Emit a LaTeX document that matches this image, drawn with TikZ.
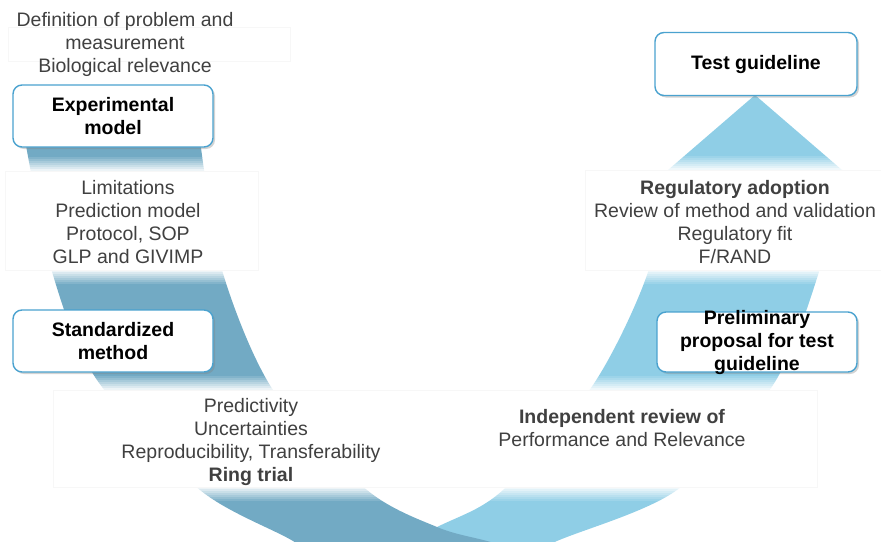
\documentclass[tikz,border=0pt]{standalone}
\usepackage{fontspec}
\setmainfont{Liberation Sans}
\usetikzlibrary{positioning,shadows}

\definecolor{boxblue}{HTML}{4AA2CF}
\definecolor{darkband}{HTML}{72AAC4}
\definecolor{lightband}{HTML}{8FCEE6}
\definecolor{notegray}{HTML}{404040}

\begin{document}
\begin{tikzpicture}[x=1pt, y=-1pt,
  txt/.style = {font=\fontsize{19.5}{23}\selectfont, align=center, inner sep=0pt},
  note/.style = {txt, text=notegray},
  stage/.style = {txt, font=\fontsize{19.5}{23}\selectfont\bfseries, draw=boxblue,
    line width=1.4pt, fill=white, rounded corners=9pt, minimum width=200pt, minimum height=62pt,
    drop shadow={shadow xshift=2pt, shadow yshift=-2pt, opacity=0.35}},
  panel/.style = {fill=white, draw=black!3}]
\useasboundingbox (0,0) rectangle (881,541);

% U-shaped band: light rising part, then dark falling part on top
\begin{scope}
\clip (0,0) rectangle (881,541);
\fill[lightband] plot[smooth] coordinates {(330,575) (437,527) (503,490) (593,385) (647,275) (668,170)}
  -- (755,95) -- (842,170)
  -- plot[smooth] coordinates {(842,170) (818,275) (773,385) (677,490) (557,541) (480,575)} -- cycle;
\fill[darkband] plot[smooth] coordinates {(25,140) (53,275) (97,380) (200,490) (293,541) (340,575)}
  -- plot[smooth] coordinates {(560,560) (487,541) (437,527) (367,490) (273,390) (222,270) (200,140)} -- cycle;
\end{scope}

% soft band ends just outside each panel (x from, x to, panel edge, direction)
\foreach \xa/\xb/\ya/\dir in {5/258/171/-1, 5/258/270/1, 585/881/170/-1, 585/881/270/1,
    53/817/390/-1, 53/817/487/1}
  \foreach \i in {1,...,7}
    \fill[white, opacity=\i/8] (\xa,{\ya+\dir*(16-2*\i)}) rectangle (\xb,{\ya+\dir*(14-2*\i)});

% panels
\filldraw[panel] (8,27) rectangle (290,61);
\filldraw[panel] (5,171) rectangle (258,270);
\filldraw[panel] (585,170) rectangle (881,270);
\filldraw[panel] (53,390) rectangle (817,487);

% stages and notes
\node[note] (def) at (125,44) {Definition of problem and\\measurement\\Biological relevance};
\node[stage] (exp) at (113,116) {Experimental\\model};
\node[note] (lim) at (128,222) {Limitations\\Prediction model\\Protocol, SOP\\GLP and GIVIMP};
\node[stage] (std) at (113,341) {Standardized\\method};
\node[note] (ring) at (251,442) {Predictivity\\Uncertainties\\Reproducibility, Transferability\\\textbf{Ring trial}};
\node[note] (review) at (622,428) {\textbf{Independent review of}\\Performance and Relevance};
\node[note] (reg) at (735,222) {\textbf{Regulatory adoption}\\Review of method and validation\\Regulatory fit\\F/RAND};
\node[stage, minimum height=60pt] (prop) at (757,342) {};
\node[txt, font=\fontsize{19.5}{23}\selectfont\bfseries] (proptext) at (prop) {Preliminary\\proposal for test\\guideline};
\node[stage, minimum width=202pt, minimum height=63pt] (tg) at (756,64) {Test guideline};
\end{tikzpicture}
\end{document}
